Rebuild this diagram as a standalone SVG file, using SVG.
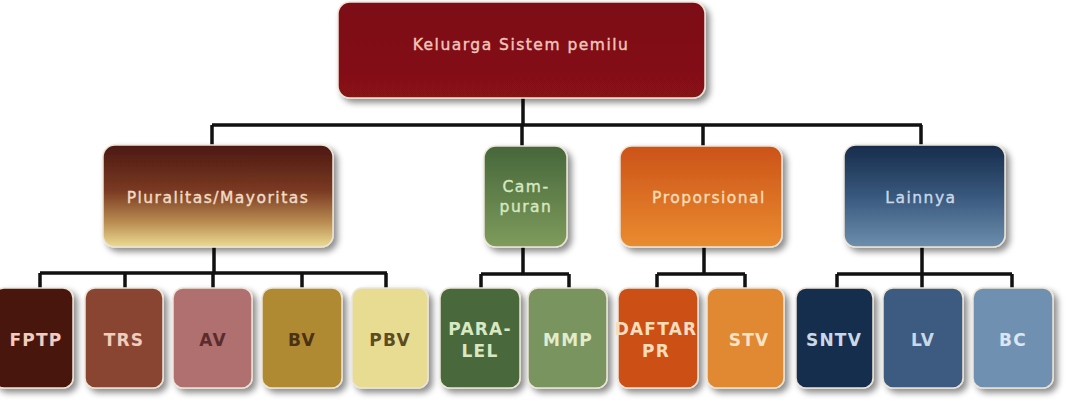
<svg xmlns="http://www.w3.org/2000/svg" width="1087" height="404" viewBox="0 0 1087 404">
<defs>
<filter id="sh" x="-20%" y="-20%" width="150%" height="150%">
<feDropShadow dx="4" dy="4" stdDeviation="3" flood-color="#000" flood-opacity="0.45"/>
</filter>
<linearGradient id="gTop" x1="0" y1="0" x2="0" y2="1"><stop offset="0" stop-color="#7c0d12"/><stop offset="1" stop-color="#861214"/></linearGradient>
<linearGradient id="gPlu" x1="0" y1="0" x2="0" y2="1"><stop offset="0" stop-color="#4c1812"/><stop offset="0.45" stop-color="#7a3a22"/><stop offset="0.75" stop-color="#b88a50"/><stop offset="1" stop-color="#ecdc92"/></linearGradient>
<linearGradient id="gCam" x1="0" y1="0" x2="0" y2="1"><stop offset="0" stop-color="#46663a"/><stop offset="1" stop-color="#7e9c5c"/></linearGradient>
<linearGradient id="gPro" x1="0" y1="0" x2="0" y2="1"><stop offset="0" stop-color="#cc5218"/><stop offset="1" stop-color="#ea8c30"/></linearGradient>
<linearGradient id="gLai" x1="0" y1="0" x2="0" y2="1"><stop offset="0" stop-color="#172c4c"/><stop offset="0.5" stop-color="#38587c"/><stop offset="1" stop-color="#6e8eae"/></linearGradient>
</defs>
<style>
.box{stroke:#ece4d6;stroke-width:1.5;filter:url(#sh);}
.t{font-family:"DejaVu Sans",Verdana,sans-serif;text-anchor:middle;dominant-baseline:central;}
.mid{font-size:15.5px;letter-spacing:1.5px;stroke-width:0.4px;}
.bot{font-size:17px;font-weight:bold;letter-spacing:1.2px;}
.conn{stroke:#111;stroke-width:3.5;fill:none;}
</style>
<g id="connectors">
<path class="conn" d="M523 98V125M212 125H922M212 125V146M522 125V146M703 125V146M921 125V146"/>
<path class="conn" d="M214 247V273M40 273H387M40 273V289M125 273V289M213 273V289M302 273V289M386 273V289"/>
<path class="conn" d="M523 247V274M481 274H569M481 274V289M569 274V289"/>
<path class="conn" d="M704 247V274M657 274H745M657 274V289M745 274V289"/>
<path class="conn" d="M922 247V274M837 274H1012M837 274V289M922 274V289M1012 274V289"/>
</g>
<g id="n-top"><rect class="box" x="338" y="2" width="367" height="96" rx="12" fill="url(#gTop)"/><text class="t mid" x="521" y="45" fill="#f2c6bc" stroke="#f2c6bc">Keluarga Sistem pemilu</text></g>
<g id="n-pluralitas"><rect class="box" x="103" y="145" width="230" height="102" rx="12" fill="url(#gPlu)"/><text class="t mid" x="218" y="198" fill="#f2dcc6" stroke="#f2dcc6">Pluralitas/Mayoritas</text></g>
<g id="n-campuran"><rect class="box" x="484" y="146" width="83" height="101" rx="12" fill="url(#gCam)"/><text class="t mid" x="526" y="187" fill="#d8e8c2" stroke="#d8e8c2">Cam-</text><text class="t mid" x="526" y="207" fill="#d8e8c2" stroke="#d8e8c2">puran</text></g>
<g id="n-proporsional"><rect class="box" x="620" y="146" width="162" height="101" rx="12" fill="url(#gPro)"/><text class="t mid" x="709" y="198" fill="#f8dcb6" stroke="#f8dcb6">Proporsional</text></g>
<g id="n-lainnya"><rect class="box" x="844" y="145" width="161" height="102" rx="12" fill="url(#gLai)"/><text class="t mid" x="921" y="198" fill="#c8d8e8" stroke="#c8d8e8">Lainnya</text></g>
<g id="n-fptp"><rect class="box" x="-6" y="288" width="79" height="100" rx="10" fill="#4a1610"/><text class="t bot" x="36" y="340" fill="#f2ccbc">FPTP</text></g>
<g id="n-trs"><rect class="box" x="85" y="288" width="78" height="100" rx="10" fill="#8a4530"/><text class="t bot" x="124" y="340" fill="#f2ccbc">TRS</text></g>
<g id="n-av"><rect class="box" x="173" y="288" width="79" height="100" rx="10" fill="#b07070"/><text class="t bot" x="213" y="340" fill="#5a2c2c">AV</text></g>
<g id="n-bv"><rect class="box" x="262" y="288" width="80" height="100" rx="10" fill="#b08a32"/><text class="t bot" x="302" y="340" fill="#4a3212">BV</text></g>
<g id="n-pbv"><rect class="box" x="352" y="288" width="76" height="100" rx="10" fill="#e8dc92"/><text class="t bot" x="390" y="340" fill="#5c4c22">PBV</text></g>
<g id="n-paralel"><rect class="box" x="440" y="288" width="80" height="100" rx="10" fill="#48683a"/><text class="t bot" x="480" y="329" fill="#d8e8c2">PARA-</text><text class="t bot" x="480" y="351" fill="#d8e8c2">LEL</text></g>
<g id="n-mmp"><rect class="box" x="528" y="288" width="79" height="100" rx="10" fill="#7a9460"/><text class="t bot" x="568" y="340" fill="#e2eccc">MMP</text></g>
<g id="n-daftar"><rect class="box" x="618" y="288" width="80" height="100" rx="10" fill="#cc5018"/><text class="t bot" x="656" y="329" fill="#f8dcbc">DAFTAR</text><text class="t bot" x="656" y="351" fill="#f8dcbc">PR</text></g>
<g id="n-stv"><rect class="box" x="707" y="288" width="77" height="100" rx="10" fill="#e08830"/><text class="t bot" x="749" y="340" fill="#fae2c4">STV</text></g>
<g id="n-sntv"><rect class="box" x="796" y="288" width="77" height="100" rx="10" fill="#182e4e"/><text class="t bot" x="834" y="340" fill="#c8d8e8">SNTV</text></g>
<g id="n-lv"><rect class="box" x="883" y="288" width="80" height="100" rx="10" fill="#3e5a80"/><text class="t bot" x="923" y="340" fill="#c8d8e8">LV</text></g>
<g id="n-bc"><rect class="box" x="973" y="288" width="80" height="100" rx="10" fill="#7090b2"/><text class="t bot" x="1013" y="340" fill="#dae6f2">BC</text></g>
</svg>
